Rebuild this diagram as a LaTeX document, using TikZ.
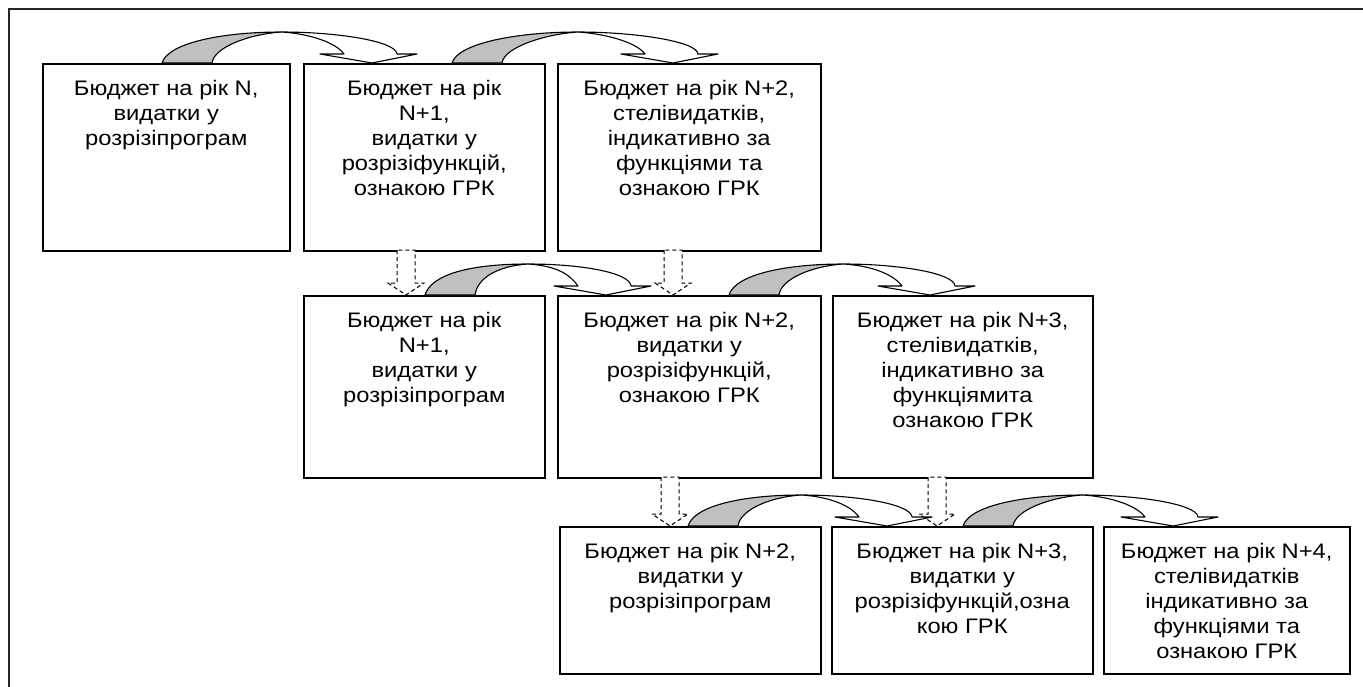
\documentclass[tikz,border=0pt]{standalone}
\usepackage{fontspec}
\setmainfont{Liberation Sans}[FakeStretch=1.13]
\definecolor{shade}{RGB}{192,192,192}
\tikzset{
  bx/.style={draw, line width=1.5pt, inner sep=0pt, anchor=north west, rectangle, fill=white},
  carrowline/.style={draw=black, line width=1.1pt, line join=round},
  darrow/.style={draw=black, line width=1pt, dash pattern=on 4pt off 3pt, fill=white},
  frameline/.style={draw=black!85, line width=2pt}
}
\newcommand\bxt[3]{\parbox[c][#2pt][t]{#1pt}{\centering\fontsize{21}{25}\selectfont\vspace*{17pt}#3\par}}
\newcommand\carr[3]{%
  \pgfmathsetmacro\Px{#1+0.57*(#2-#1)}%
  \pgfmathsetmacro\Py{#3-31}%
  \pgfmathsetmacro\yh{#3-9}%
  \filldraw[carrowline, fill=shade] (#1,#3) .. controls (#1+6,#3-20) and (\Px-60,\Py) .. (\Px,\Py)
     .. controls (\Px-32,\Py+2) and (#1+52,#3-16) .. (#1+50,#3) -- cycle;
  \filldraw[carrowline, fill=white] (\Px,\Py) .. controls (\Px+55,\Py) and (#2+24,#3-22) .. (#2+25,\yh)
     -- (#2+45,\yh) -- (#2,#3) -- (#2-52,\yh) -- (#2-28,\yh)
     .. controls (#2-36,#3-20) and (\Px+30,\Py+2) .. (\Px,\Py) -- cycle;
}
\newcommand\darr[3]{%
  \draw[darrow] (#1-9,#2) -- (#1-9,#3-12) -- (#1-18,#3-12) -- (#1,#3) -- (#1+18,#3-12) -- (#1+9,#3-12) -- (#1+9,#2) -- cycle;
}
\begin{document}
\begin{tikzpicture}[x=1pt,y=-1pt]
\useasboundingbox[fill=white] (0,0) rectangle (1363,686);
\draw[frameline] (9,9) rectangle (1390,710);

% row 1
\node[bx] (A) at (42,63) {\bxt{247}{187}{Бюджет на рік N,\\видатки у\\розрізіпрограм}};
\node[bx] (B) at (303,63) {\bxt{241}{187}{Бюджет на рік\\N+1,\\видатки у\\розрізіфункцій,\\ознакою ГРК}};
\node[bx] (C) at (557,63) {\bxt{263}{187}{Бюджет на рік N+2,\\стелівидатків,\\індикативно за\\функціями та\\ознакою ГРК}};
% row 2
\node[bx] (D) at (303,295) {\bxt{241}{182}{Бюджет на рік\\N+1,\\видатки у\\розрізіпрограм}};
\node[bx] (E) at (557,295) {\bxt{263}{182}{Бюджет на рік N+2,\\видатки у\\розрізіфункцій,\\ознакою ГРК}};
\node[bx] (F) at (832,295) {\bxt{260}{182}{Бюджет на рік N+3,\\стелівидатків,\\індикативно за\\функціямита\\ознакою ГРК}};
% row 3
\node[bx] (G) at (559,526) {\bxt{261}{147}{Бюджет на рік N+2,\\видатки у\\розрізіпрограм}};
\node[bx] (H) at (831,526) {\bxt{261}{147}{Бюджет на рік N+3,\\видатки у\\розрізіфункцій,озна\\кою ГРК}};
\node[bx] (I) at (1103,526) {\bxt{246}{147}{Бюджет на рік N+4,\\стелівидатків\\індикативно за\\функціями та\\ознакою ГРК}};

% dashed down arrows
\darr{406}{250}{295}
\darr{673}{250}{295}
\darr{670}{477}{526}
\darr{937}{477}{526}

% curved arrows
\carr{162}{372}{63}
\carr{452}{673}{63}
\carr{425}{606}{295}
\carr{729}{930}{295}
\carr{688}{887}{526}
\carr{963}{1173}{526}
\end{tikzpicture}
\end{document}
